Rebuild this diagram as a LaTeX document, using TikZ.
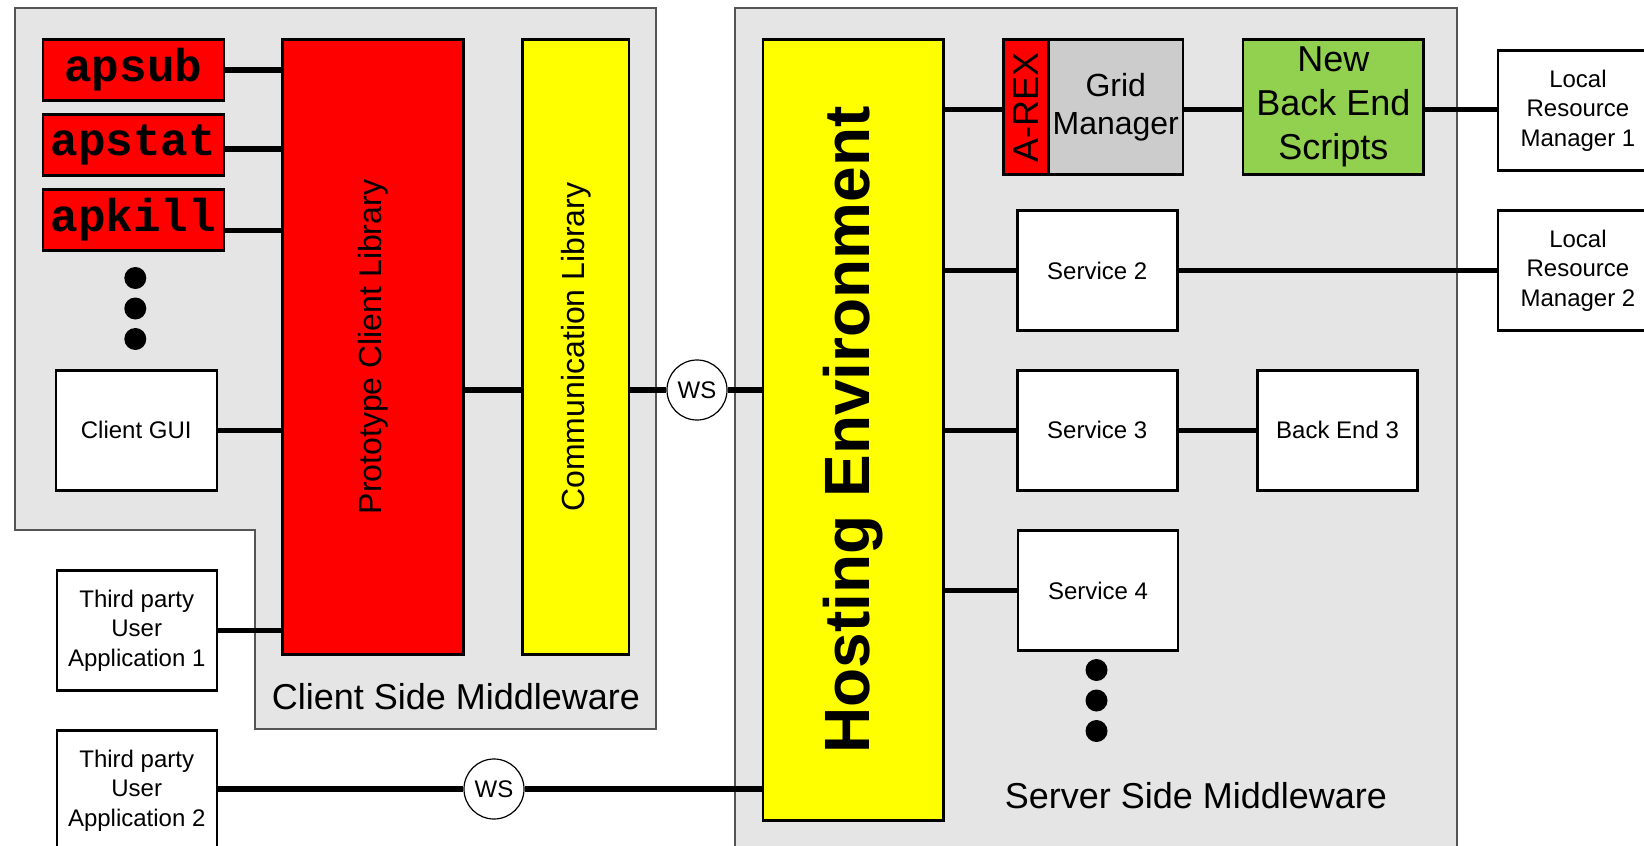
\documentclass[tikz,border=0pt]{standalone}
\usepackage{fontspec}
\setmainfont{Liberation Sans}
\newfontfamily\monofam{Liberation Mono}
\usetikzlibrary{calc}
\definecolor{regfill}{HTML}{E5E5E5}
\definecolor{regline}{HTML}{555555}
\definecolor{gmfill}{HTML}{CCCCCC}
\definecolor{nbgreen}{HTML}{92D050}
\definecolor{hred}{HTML}{FF0000}
\definecolor{hyellow}{HTML}{FFFF00}
\begin{document}
\begin{tikzpicture}[x=1pt,y=-1pt,
  region/.style={fill=regfill,draw=regline,line width=2pt},
  box/.style={draw=black,line width=2.5pt,inner sep=0pt,align=center,anchor=north west,fill=white,
    font=\fontsize{24}{29.5}\selectfont},
  cmdbox/.style={box,fill=hred,minimum width=181pt,minimum height=61pt,
    font=\monofam\bfseries\fontsize{46}{50}\selectfont},
  wsnode/.style={circle,draw=black,line width=1.2pt,fill=white,minimum size=60pt,inner sep=0pt,
    font=\fontsize{24}{26}\selectfont},
  wire/.style={line width=5.5pt},
  dot/.style={fill=black},
  reglabel/.style={font=\fontsize{36}{40}\selectfont,inner sep=0pt}]
\useasboundingbox (0,0) rectangle (1644,846);
\clip (0,0) rectangle (1644,846);
\fill[white] (0,0) rectangle (1644,846);
% regions
\draw[region] (14.7,8.4) -- (655.5,8.4) -- (655.5,729.3) -- (255,729.3) -- (255,529.5) -- (14.7,529.5) -- cycle;
\draw[region] (735,8.4) rectangle (1456.5,870);
\node[reglabel] (clientlbl) at (456,697) {Client Side Middleware};
\node[reglabel] (serverlbl) at (1196,796) {Server Side Middleware};
% client side
\node[cmdbox] (apsub) at (41.5,38.3) {apsub};
\node[cmdbox] (apstat) at (41.5,113.3) {apstat};
\node[cmdbox] (apkill) at (41.5,188.3) {apkill};
\fill[dot] (135.3,278) circle (11pt);
\fill[dot] (135.3,308.5) circle (11pt);
\fill[dot] (135.3,339) circle (11pt);
\node[box,minimum width=161pt,minimum height=120pt] (gui) at (54.5,369) {Client GUI};
\node[box,minimum width=160pt,minimum height=120pt] (tp1) at (55.5,569.3) {Third party\\User\\Application 1};
\node[box,minimum width=160pt,minimum height=120pt] (tp2) at (55.5,729.3) {Third party\\User\\Application 2};
\node[box,fill=hred,minimum width=180.7pt,minimum height=615pt,font=\fontsize{32}{36}\selectfont] (pcl) at (281.3,38.3) {\rotatebox{90}{Prototype Client Library}};
\node[box,fill=hyellow,minimum width=106.3pt,minimum height=615pt,font=\fontsize{32}{36}\selectfont] (comm) at (521.4,38.3) {\rotatebox{90}{Communication Library}};
\node[wsnode] (ws1) at (697,390) {WS};
\node[wsnode] (ws2) at (494,789) {WS};
% server side
\node[box,fill=hyellow,minimum width=180.5pt,minimum height=780.7pt,font=\bfseries\fontsize{64}{70}\selectfont] (he) at (761.5,38.3) {\rotatebox{90}{Hosting Environment}};
\node[box,fill=hred,minimum width=45.2pt,minimum height=135pt,font=\fontsize{36}{40}\selectfont] (arex) at (1002.2,38.3) {\rotatebox{90}{A-REX}};
\node[box,fill=gmfill,minimum width=134.2pt,minimum height=135pt,font=\fontsize{32}{38}\selectfont] (gm) at (1047.4,38.3) {Grid\\Manager};
\node[box,fill=nbgreen,minimum width=180.6pt,minimum height=135pt,font=\fontsize{36}{44}\selectfont] (nbes) at (1241.8,38.3) {New\\Back End\\Scripts};
\node[box,minimum width=160pt,minimum height=120pt] (lrm1) at (1496.7,49.3) {Local\\Resource\\Manager 1};
\node[box,minimum width=160pt,minimum height=120pt] (lrm2) at (1496.7,209.3) {Local\\Resource\\Manager 2};
\node[box,minimum width=160pt,minimum height=120pt] (s2) at (1016,209.3) {Service 2};
\node[box,minimum width=160pt,minimum height=120pt] (s3) at (1016,369) {Service 3};
\node[box,minimum width=160pt,minimum height=120pt] (be3) at (1256.3,369) {Back End 3};
\node[box,minimum width=160pt,minimum height=120pt] (s4) at (1016.8,529.3) {Service 4};
\fill[dot] (1096.5,670) circle (11pt);
\fill[dot] (1096.5,700.5) circle (11pt);
\fill[dot] (1096.5,731) circle (11pt);
% connectors
\draw[wire] (apsub.east) -- (apsub.east -| pcl.west);
\draw[wire] ([yshift=-4pt]apstat.east) -- ([yshift=-4pt]apstat.east -| pcl.west);
\draw[wire] ([yshift=-10.6pt]apkill.east) -- ([yshift=-10.6pt]apkill.east -| pcl.west);
\draw[wire] (gui.east) -- (gui.east -| pcl.west);
\draw[wire] (tp1.east) -- (tp1.east -| pcl.west);
\draw[wire] (comm.west |- ws1.west) -- (pcl.east |- ws1.west);
\draw[wire] (comm.east |- ws1.west) -- (ws1.west);
\draw[wire] (ws1.east) -- (ws1.east -| he.west);
\draw[wire] (tp2.east |- ws2.west) -- (ws2.west);
\draw[wire] (ws2.east) -- (ws2.east -| he.west);
\draw[wire] ([yshift=-2.5pt]arex.west -| he.east) -- ([yshift=-2.5pt]arex.west);
\draw[wire] ([yshift=-2.5pt]gm.east) -- ([yshift=-2.5pt]gm.east -| nbes.west);
\draw[wire] ([yshift=-2.5pt]nbes.east) -- ([yshift=-2.5pt]nbes.east -| lrm1.west);
\draw[wire] (s2.west -| he.east) -- (s2.west);
\draw[wire] (s2.east) -- (s2.east -| lrm2.west);
\draw[wire] (s3.west -| he.east) -- (s3.west);
\draw[wire] (s3.east) -- (s3.east -| be3.west);
\draw[wire] (s4.west -| he.east) -- (s4.west);
\end{tikzpicture}
\end{document}
